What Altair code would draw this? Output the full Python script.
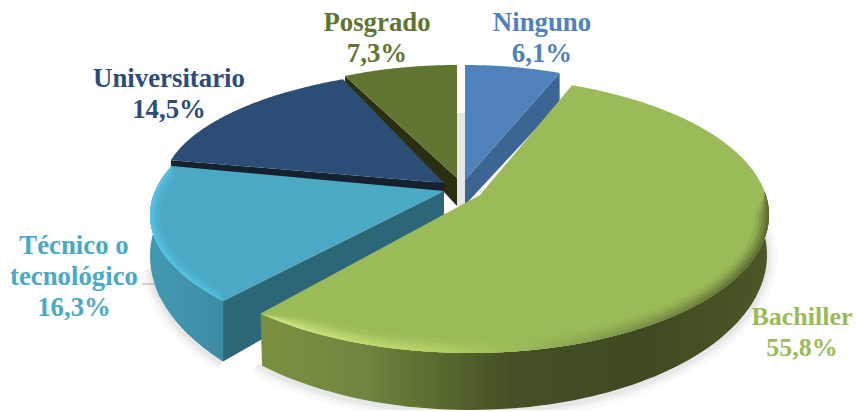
import math
import altair as alt

categories = ["Ninguno", "Bachiller", "Técnico o tecnológico", "Universitario", "Posgrado"]
shares = [6.1, 55.8, 16.3, 14.5, 7.3]
label_lines = [["Ninguno", "6,1%"], ["Bachiller", "55,8%"], ["Técnico o", "tecnológico", "16,3%"],
               ["Universitario", "14,5%"], ["Posgrado", "7,3%"]]
label_anchor = [(542, 31), (802, 325), (74, 254), (169, 87), (377, 31)]
label_size = [26.8, 26, 26.8, 26.8, 26.8]
top_colors = ["#4F81BD", "#9BBB59", "#4AA9C4", "#2C4D75", "#607530"]
cut_colors = ["#3D6594", "#7A9040", "#2C6779", "#14212F", "#2A300F"]

# apex, ellipse centre and radii, angular correction of the view, wall drop
apex = [(465, 180), (480, 195), (444, 191), (444, 183), (457, 178)]
ellipse = [(465, 175, 253, 110), (470, 215, 299, 138), (480, 215, 330, 137),
           (466, 189, 304, 120), (457, 171, 253, 106)]
turn = [0, -2, 8.3, 2.4, 0]
stretch = [1, 1.018, 1.02, 1, 1]
base_ellipse = [(465, 205, 253, 110), (470, 255, 297, 155), (480, 256, 330, 168),
                (466, 198, 304, 120), (457, 181, 253, 106)]
apex_drop = [25, 45, 45, 10, 28]

edges = []
c = 0.0
for s in shares:
    edges.append((c, c + s * 3.6))
    c += s * 3.6

X = alt.Scale(domain=[8, 853], nice=False, zero=False)
Y = alt.Scale(domain=[410, 8], nice=False, zero=False)


def arc(e, t1, t2, n=80, grow=0, dx=0, dy=0, taper=0):
    cx, cy, ax, ay = e
    pts = []
    for i in range(n + 1):
        f = i / n
        t = math.radians(t1 + (t2 - t1) * f)
        g = grow
        if taper:
            g = grow * min(1.0, math.sin(math.pi * f) * taper)
        pts.append((cx + dx + (ax + g) * math.sin(t), cy + dy - (ay + g) * math.cos(t)))
    return pts


def grad(stops):
    return alt.Gradient(gradient="linear", x1=0, y1=0, x2=1, y2=0,
                        stops=[alt.GradientStop(offset=o, color=col) for o, col in stops])


def poly(pts, fill, opacity=1.0):
    vals = [{"x": p[0], "y": p[1], "o": i} for i, p in enumerate(pts)]
    return alt.Chart(alt.Data(values=vals)).mark_line(
        fill=fill, stroke="transparent", strokeWidth=0, fillOpacity=opacity, clip=False
    ).encode(
        x=alt.X("x:Q", scale=X, axis=None),
        y=alt.Y("y:Q", scale=Y, axis=None),
        order=alt.Order("o:Q"),
    )


def span(i):
    a = edges[i][0] + turn[i]
    return a, a + (edges[i][1] - edges[i][0]) * stretch[i]


layers = []

# soft shadow under the pie
for grow, op in [(10, 0.05), (6, 0.07), (3, 0.09)]:
    a1, a2 = 70, span(1)[1] + 1
    outer = arc(base_ellipse[1], a1, a2, grow=grow, dy=2)
    inner = arc(base_ellipse[1], a2, a1)
    layers.append(poly(outer + inner, "#8a8a8a", op))
    a1, a2 = span(2)
    outer = arc(base_ellipse[2], a1, a2 - 25, grow=grow, dy=2)
    inner = arc(base_ellipse[2], a2 - 25, a1)
    layers.append(poly(outer + inner, "#8a8a8a", op))

# shadow seen through the gap between the back slices
layers.append(poly([(457, 113), (465, 113), (465, 206), (457, 206)], "#E6E6E6"))

# leader line of the Técnico label
leader = alt.Chart(alt.Data(values=[{"x": 142, "y": 284, "o": 0}, {"x": 155, "y": 284, "o": 1},
                                    {"x": 160, "y": 297, "o": 2}])).mark_line(
    color="#A6A6A6", strokeWidth=1.2).encode(
    x=alt.X("x:Q", scale=X, axis=None), y=alt.Y("y:Q", scale=Y, axis=None), order=alt.Order("o:Q"))
layers.append(leader)


def cut_face(i, angle, fill):
    ax_, ay_ = apex[i]
    t = arc(ellipse[i], angle, angle, n=1)[0]
    b = arc(base_ellipse[i], angle, angle, n=1)[0]
    return poly([(ax_, ay_), t, b, (ax_, ay_ + apex_drop[i])], fill)


def top(i):
    a1, a2 = span(i)
    return poly([apex[i]] + arc(ellipse[i], a1, a2), top_colors[i])


# Posgrado
layers.append(cut_face(4, span(4)[0], cut_colors[4]))
layers.append(top(4))
# Ninguno
layers.append(cut_face(0, span(0)[1], cut_colors[0]))
layers.append(top(0))
# Universitario
layers.append(cut_face(3, span(3)[0], cut_colors[3]))
layers.append(top(3))
# Técnico: outer wall, cut face, top and bevel
a1, a2 = span(2)
layers.append(poly(arc(ellipse[2], a1, a2) + arc(base_ellipse[2], a2, a1),
                   grad([(0, "#4498B2"), (0.5, "#4193AD"), (1, "#3C8AA4")])))
layers.append(cut_face(2, a1, cut_colors[2]))
layers.append(top(2))
for g, op in [(-10, 0.2), (-6, 0.35), (-3, 0.6)]:
    bev = arc(ellipse[2], a1, a2) + arc(ellipse[2], a2, a1, grow=g, taper=6)
    layers.append(poly(bev, grad([(0, "#57C6EA"), (1, "#54C0E2")]), op))
# Bachiller: outer wall, cut face, top and bevel
a1, a2 = span(1)
layers.append(poly(arc(ellipse[1], 80, a2) + arc(base_ellipse[1], a2, 80),
                   grad([(0, "#7A9040"), (0.2, "#708640"), (0.33, "#5C6E30"), (0.5, "#434F24"),
                         (0.75, "#3F4A22"), (1, "#4A5726")])))
layers.append(top(1))
rim_stops = [(0, "#D2EA82"), (0.34, "#B9D368"), (0.5, "#9BBB59"), (0.7, "#7F9648"), (1, "#55642C")]
for g, op in [(-14, 0.15), (-10, 0.25), (-7, 0.35), (-4, 0.45), (-2, 0.6)]:
    bev = arc(ellipse[1], 80, a2) + arc(ellipse[1], a2, 80, grow=g, taper=5)
    layers.append(poly(bev, grad(rim_stops), op))

# labels
for i, lines in enumerate(label_lines):
    lx, ly = label_anchor[i]
    vals = [{"x": lx, "y": ly + j * 31, "t": t} for j, t in enumerate(lines)]
    layers.append(alt.Chart(alt.Data(values=vals)).mark_text(
        font="Liberation Serif", fontWeight="bold", fontSize=label_size[i], align="center",
        baseline="alphabetic", color=top_colors[i], clip=False
    ).encode(
        x=alt.X("x:Q", scale=X, axis=None),
        y=alt.Y("y:Q", scale=Y, axis=None),
        text="t:N",
    ))

chart = alt.layer(*layers).properties(
    width=845, height=402, padding=0, autosize=alt.AutoSizeParams(type="none"), background="white"
).configure_view(stroke=None)

chart.save("out.html", embed_options={"renderer": "svg", "actions": False})
